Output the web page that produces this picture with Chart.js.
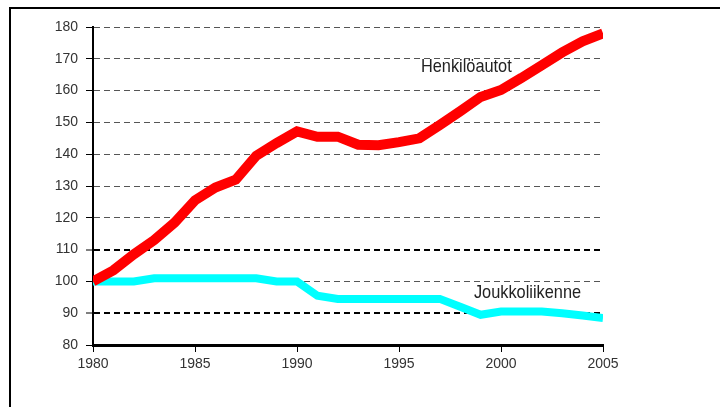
<!DOCTYPE html>
<html>
<head>
<meta charset="utf-8">
<script src="https://cdn.jsdelivr.net/npm/chart.js@4.4.1/dist/chart.umd.min.js"></script>
<style>
  html, body { margin: 0; padding: 0; background: #fff; }
  #wrap { position: relative; width: 720px; height: 407px; overflow: hidden; }
  #frame { position: absolute; left: 9px; top: 7px; width: 800px; height: 500px;
           border-left: 2px solid #000; border-top: 2px solid #000; box-sizing: border-box; }
  canvas { position: absolute; left: 0; top: 0; }
</style>
</head>
<body>
<div id="wrap">
  <div id="frame"></div>
  <canvas id="c" width="720" height="407"></canvas>
</div>
<script>
// Data (index, 1980 = 100)
const years = [1980,1981,1982,1983,1984,1985,1986,1987,1988,1989,1990,1991,1992,1993,1994,1995,1996,1997,1998,1999,2000,2001,2002,2003,2004,2005];
const henkiloautot = [100,103.5,108.5,113,118.5,125.5,129.5,132,139.5,143.5,147.2,145.5,145.5,143,142.8,143.8,145,149.2,153.5,158,160.2,164,168,172,175.5,178];
const joukkoliikenne = [100,100,100,101,101,101,101,101,101,100,100,95.5,94.5,94.5,94.5,94.5,94.5,94.5,92,89.5,90.5,90.5,90.5,90,89.3,88.5];
const seriesNames = ["Henkilöautot", "Joukkoliikenne"];
const xTicks = { min: 1980, max: 2005, step: 5 };
const yTicks = { min: 80, max: 180, step: 10 };

const FONT = '"Liberation Sans", Arial, sans-serif';

const seriesLabels = {
  id: 'seriesLabels',
  afterDatasetsDraw(chart, args, opts) {
    const ctx = chart.ctx;
    const xs = chart.scales.x, ys = chart.scales.y;
    ctx.save();
    ctx.fillStyle = '#222';
    ctx.font = '19px ' + FONT;
    ctx.textAlign = 'center';
    ctx.textBaseline = 'middle';
    opts.items.forEach(it => {
      const px = xs.getPixelForValue(it.x), py = ys.getPixelForValue(it.y);
      ctx.save();
      ctx.translate(px, py);
      ctx.scale(0.86, 1);
      ctx.fillText(it.text, 0, 0);
      ctx.restore();
    });
    ctx.restore();
  }
};

const toPoints = arr => years.map((y, i) => ({ x: y, y: arr[i] }));

new Chart(document.getElementById('c'), {
  type: 'line',
  data: {
    datasets: [
      { label: seriesNames[0], data: toPoints(henkiloautot), borderColor: '#ff0000', backgroundColor: '#ff0000',
        borderWidth: 10, pointRadius: 0, tension: 0, fill: false },
      { label: seriesNames[1], data: toPoints(joukkoliikenne), borderColor: '#00ffff', backgroundColor: '#00ffff',
        borderWidth: 8, pointRadius: 0, tension: 0, fill: false }
    ]
  },
  options: {
    responsive: false,
    animation: false,
    devicePixelRatio: 1,
    layout: { padding: { left: 0, top: 27, right: 117, bottom: 0 } },
    plugins: {
      legend: { display: false },
      tooltip: { enabled: false },
      seriesLabels: { items: [
        { text: seriesNames[0], x: 1998.3, y: 167.4 },
        { text: seriesNames[1], x: 2001.3, y: 96.5 }
      ] }
    },
    scales: {
      x: {
        type: 'linear',
        min: xTicks.min, max: xTicks.max,
        afterFit: s => { s.height = 62; },
        ticks: { stepSize: xTicks.step, color: '#333', padding: 4,
                 font: { family: FONT, size: 14 }, callback: v => String(v), maxRotation: 0 },
        grid: { drawOnChartArea: false, drawTicks: true, tickLength: 7, tickColor: '#000', tickWidth: 1 },
        border: { display: true, color: '#000', width: 3 }
      },
      y: {
        min: yTicks.min, max: yTicks.max,
        afterFit: s => { s.width = 93; },
        ticks: { stepSize: yTicks.step, color: '#333', padding: 8,
                 font: { family: FONT, size: 14 } },
        grid: {
          drawTicks: true, tickLength: 7, tickColor: '#000', tickWidth: 1,
          color: c => (c.tick && (c.tick.value === 110 || c.tick.value === 90)) ? '#000' : (c.tick && c.tick.value === 80 ? 'rgba(0,0,0,0)' : '#555'),
          lineWidth: c => (c.tick && (c.tick.value === 110 || c.tick.value === 90)) ? 2 : 1
        },
        border: { display: true, color: '#000', width: 2, dash: [6, 4] }
      }
    }
  },
  plugins: [seriesLabels]
});
</script>
</body>
</html>
